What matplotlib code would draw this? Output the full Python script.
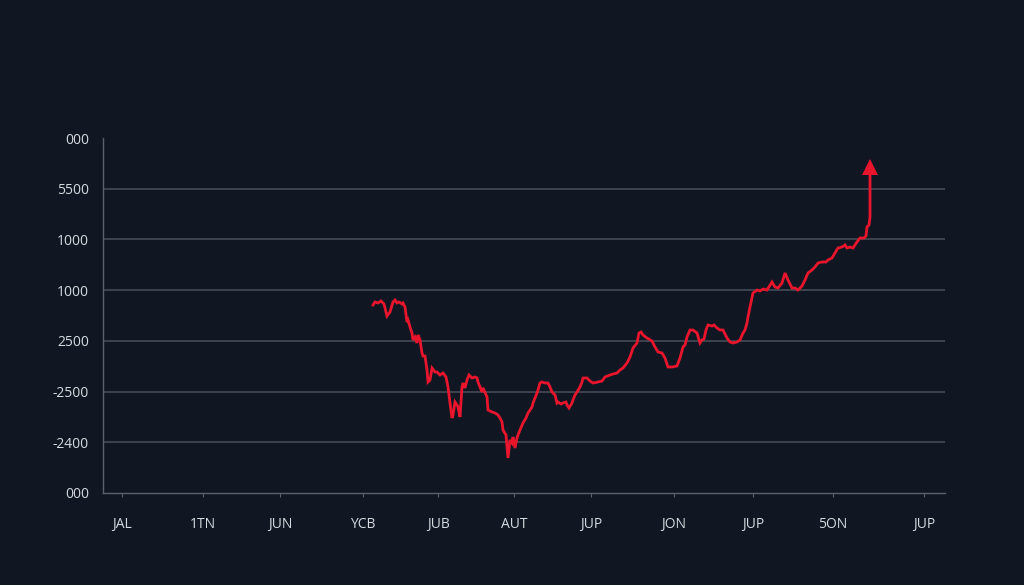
import numpy as np
import matplotlib
matplotlib.use("Agg")
import matplotlib.pyplot as plt

# ---- data ----
x_vals = [270, 272, 275, 278, 281, 284, 287, 290, 292, 294, 296, 299, 300, 302, 304, 305, 307, 309, 310, 312,
          314, 315, 317, 319, 320, 322, 324, 325, 327, 329, 332, 334, 337, 340, 343, 345, 347, 349, 350, 352,
          354, 355, 357, 359, 360, 362, 364, 366, 369, 372, 374, 375, 379, 380, 384, 385, 389, 392, 395, 397,
          399, 400, 403, 404, 405, 407, 409, 410, 412, 414, 415, 417, 420, 423, 425, 427, 429, 430, 434, 435,
          437, 439, 442, 445, 447, 449, 450, 452, 454, 455, 458, 460, 463, 464, 466, 469, 470, 472, 474, 477,
          479, 480, 484, 487, 490, 495, 499, 502, 507, 510, 514, 517, 520, 524, 527, 530, 534, 536, 538, 540,
          544, 549, 552, 555, 559, 562, 565, 569, 574, 577, 580, 582, 584, 587, 590, 594, 597, 599, 601, 603,
          605, 609, 611, 614, 617, 620, 624, 627, 630, 634, 637, 640, 642, 644, 645, 647, 650, 654, 657, 660,
          664, 669, 672, 675, 679, 682, 685, 689, 692, 695, 699, 702, 705, 709, 712, 715, 719, 723, 725, 729,
          732, 735, 739, 742, 744, 747, 750, 752, 754, 757, 761, 763, 764, 766, 767, 767]
y_vals = [188, 191, 190, 192, 189, 177, 181, 191, 193, 190, 191, 189, 190, 186, 171, 173, 166, 160, 153, 156,
          150, 158, 153, 140, 137, 137, 123, 111, 113, 125, 121, 121, 118, 120, 116, 106, 90, 75, 78, 91,
          88, 86, 76, 106, 110, 105, 113, 118, 115, 116, 115, 111, 101, 105, 96, 83, 81, 80, 78, 75,
          71, 63, 58, 46, 35, 53, 50, 56, 45, 55, 58, 63, 70, 75, 80, 83, 86, 90, 100, 103,
          110, 111, 110, 110, 106, 101, 100, 98, 90, 91, 89, 90, 91, 88, 85, 90, 93, 98, 101, 106,
          111, 115, 115, 112, 110, 111, 112, 116, 118, 119, 120, 123, 125, 130, 136, 145, 150, 160, 161, 158,
          155, 152, 146, 141, 140, 135, 126, 126, 127, 135, 146, 148, 156, 163, 163, 160, 150, 153, 154, 163,
          168, 167, 168, 165, 163, 163, 155, 151, 150, 151, 153, 160, 163, 170, 176, 186, 200, 203, 202, 204,
          203, 211, 206, 205, 210, 220, 213, 205, 205, 203, 207, 213, 220, 223, 226, 230, 231, 231, 233, 235,
          240, 245, 246, 248, 245, 246, 245, 248, 251, 255, 255, 257, 266, 268, 276, 326]

x_tick_pos = [19, 100, 177, 260, 335, 411, 488, 571, 650, 730, 821]
x_tick_labels = ["JAL", "1TN", "JUN", "YCB", "JUB", "AUT", "JUP", "JON", "JUP", "5ON", "JUP"]
y_tick_labels = ["000", "-2400", "-2500", "2500", "1000", "1000", "5500", "000"]  # bottom to top

# ---- style ----
BG = "#111722"
TXT = "#d6dae0"
GRID = "#4a505b"
RED = "#e8152c"

plt.rcParams["font.family"] = ["Open Sans", "DejaVu Sans"]

fig = plt.figure(figsize=(10.24, 5.85), dpi=100, facecolor=BG)
ax = fig.add_axes([103 / 1024, (585 - 493) / 585, (945 - 103) / 1024, (493 - 138) / 585])
ax.set_facecolor(BG)

ymax = 355
ax.set_xlim(0, 842)
ax.set_ylim(0, ymax)

yt = np.linspace(0, ymax, len(y_tick_labels))
ax.set_yticks(yt)
ax.set_yticklabels(y_tick_labels)
for yv in yt[1:-1]:
    ax.axhline(yv, color=GRID, lw=1.1, zorder=1)

ax.set_xticks(x_tick_pos)
ax.set_xticklabels(x_tick_labels)

ax.plot(x_vals, y_vals, color=RED, lw=2.0, solid_joinstyle="miter", zorder=3)
ax.plot([x_vals[-1]], [y_vals[-1]], marker="^", color=RED, markersize=11, markeredgewidth=0, zorder=4)

for s in ["top", "right"]:
    ax.spines[s].set_visible(False)
for s in ["left", "bottom"]:
    ax.spines[s].set_color("#5c626d")
    ax.spines[s].set_linewidth(1.0)

ax.tick_params(axis="y", length=0, pad=10, labelsize=10, labelcolor=TXT)
ax.tick_params(axis="x", length=3, width=0.8, color="#5c626d", pad=14, labelsize=10, labelcolor=TXT)

fig.savefig("out.png", dpi=100, facecolor=BG)
